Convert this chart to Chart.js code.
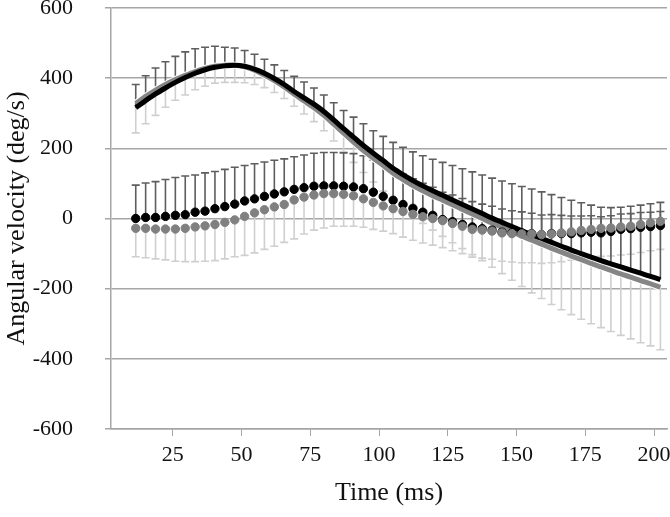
<!DOCTYPE html>
<html>
<head>
<meta charset="utf-8">
<script src="https://cdn.jsdelivr.net/npm/chart.js@4/dist/chart.umd.min.js"></script>
<style>
  html, body { margin: 0; padding: 0; background: #fff; }
  #wrap { width: 670px; height: 517px; }
</style>
</head>
<body>
<div id="wrap"><canvas id="chart" width="670" height="517"></canvas></div>
<script>
// sample times (ms)
const times = [11.5, 15.1, 18.7, 22.3, 25.9, 29.5, 33.1, 36.7, 40.3, 43.9,
  47.5, 51.1, 54.7, 58.3, 61.9, 65.5, 69.1, 72.7, 76.3, 79.9,
  83.5, 87.1, 90.7, 94.3, 97.9, 101.5, 105.1, 108.7, 112.3, 115.9,
  119.5, 123.1, 126.7, 130.3, 133.9, 137.5, 141.1, 144.7, 148.3, 151.9,
  155.5, 159.1, 162.7, 166.3, 169.9, 173.5, 177.1, 180.7, 184.3, 187.9,
  191.5, 195.1, 198.7, 202.3];

// black solid line + its SD (drawn upwards)
const blackLine = [316, 336, 355, 372, 388, 402, 414, 424, 431, 435,
  437, 434, 426, 414, 399, 382, 362, 344, 326, 305,
  281, 256, 232, 208, 186, 165, 143, 125, 108, 93,
  79, 66, 53, 40, 27, 14, 1, -11, -23, -35,
  -46, -57, -68, -79, -90, -100, -110, -120, -129, -138,
  -147, -156, -165, -174];
const blackLineSd = [66, 71, 74, 75, 74, 73, 70, 64, 60, 53,
  49, 45, 42, 40, 39, 40, 43, 45, 46, 47,
  49, 52, 57, 62, 64, 69, 74, 78, 82, 86,
  90, 94, 98, 102, 106, 110, 114, 118, 122, 126,
  130, 133, 136, 139, 142, 145, 148, 152, 160, 170,
  182, 194, 207, 220];

// grey solid line + its SD (drawn downwards)
const greyLine = [328, 348, 366, 382, 396, 408, 419, 428, 434, 437,
  437, 432, 423, 409, 393, 375, 354, 335, 316, 294,
  269, 243, 218, 194, 172, 151, 129, 111, 94, 79,
  65, 52, 39, 26, 13, 0, -13, -25, -38, -50,
  -62, -73, -85, -96, -107, -117, -128, -138, -148, -158,
  -167, -177, -186, -196];
const greyLineSd = [84, 78, 72, 65, 59, 56, 52, 51, 48, 49,
  49, 45, 41, 36, 34, 33, 34, 37, 40, 44,
  48, 53, 58, 63, 68, 73, 78, 83, 88, 93,
  98, 103, 108, 112, 116, 120, 126, 132, 138, 144,
  150, 155, 160, 164, 167, 170, 172, 173, 174, 175,
  176, 177, 177, 178];

// black dots + SD (up)
const blackDots = [0, 3, 3, 6, 9, 11, 18, 21, 28, 34,
  41, 50, 56, 63, 70, 76, 83, 88, 92, 93,
  93, 92, 90, 85, 75, 63, 52, 40, 29, 18,
  9, -3, -9, -17, -24, -29, -33, -39, -41, -41,
  -43, -46, -43, -43, -43, -41, -39, -41, -37, -31,
  -29, -25, -23, -20];
const blackDotsSd = [95, 98, 102, 105, 108, 110, 106, 109, 106, 106,
  105, 101, 100, 98, 96, 94, 93, 93, 94, 95,
  95, 95, 95, 94, 92, 90, 88, 86, 84, 82,
  80, 78, 76, 74, 72, 70, 68, 66, 63, 60,
  58, 56, 54, 52, 50, 48, 47, 46, 45, 44,
  43, 42, 41, 40];

// grey dots + SD (down)
const greyDots = [-28, -28, -30, -30, -30, -28, -24, -21, -17, -11,
  -4, 6, 16, 25, 33, 40, 53, 61, 67, 71,
  71, 69, 65, 56, 46, 36, 28, 20, 12, 5,
  0, -6, -14, -22, -31, -33, -36, -41, -43, -44,
  -44, -46, -44, -41, -38, -34, -31, -28, -27, -24,
  -22, -17, -12, -8];
const greyDotsSd = [81, 84, 85, 88, 92, 95, 99, 101, 103, 104,
  105, 111, 114, 113, 112, 108, 111, 105, 100, 98,
  93, 91, 87, 81, 77, 72, 71, 73, 74, 75,
  76, 77, 78, 78, 79, 80, 80, 81, 81, 82,
  82, 82, 82, 82, 81, 81, 81, 80, 80, 80,
  80, 80, 80, 80];

const xTicks = [25, 50, 75, 100, 125, 150, 175, 200];
const yTicks = [-600, -400, -200, 0, 200, 400, 600];

const gridColor = '#a6a6a6';
const serif = "'Liberation Serif', 'Times New Roman', serif";

function pts(vals) {
  return vals.map((v, i) => ({ x: times[i], y: v }));
}

// scales reserve room for their end labels; the plot should run to the edges
function noScalePadding(s) {
  s.paddingTop = 0;
  s.paddingBottom = 0;
  s.paddingLeft = 0;
  s.paddingRight = 0;
}

// error bars: [values, sd, direction, colour]
const errorSets = [
  [greyDots, greyDotsSd, -1, '#cfcfcf'],
  [greyLine, greyLineSd, -1, '#cfcfcf'],
  [blackDots, blackDotsSd, 1, '#5e5e5e'],
  [blackLine, blackLineSd, 1, '#5e5e5e']
];

const errorBars = {
  id: 'errorBars',
  beforeDatasetsDraw(chart) {
    const ctx = chart.ctx;
    const xs = chart.scales.x, ys = chart.scales.y;
    ctx.save();
    ctx.lineWidth = 1.6;
    errorSets.forEach(([vals, sd, dir, col]) => {
      ctx.strokeStyle = col;
      vals.forEach((v, i) => {
        const px = xs.getPixelForValue(times[i]);
        const y0 = ys.getPixelForValue(v);
        const y1 = ys.getPixelForValue(v + dir * sd[i]);
        ctx.beginPath();
        ctx.moveTo(px, y0);
        ctx.lineTo(px, y1);
        ctx.moveTo(px - 4, y1);
        ctx.lineTo(px + 4, y1);
        ctx.stroke();
      });
    });
    ctx.restore();
  }
};

// index 0 is drawn last (on top)
new Chart(document.getElementById('chart'), {
  type: 'scatter',
  data: {
    datasets: [
      { data: pts(greyDots), backgroundColor: '#808080', borderColor: '#808080',
        pointRadius: 4.2, showLine: false },
      { data: pts(blackDots), backgroundColor: '#000', borderColor: '#000',
        pointRadius: 4.2, showLine: false },
      { data: pts(blackLine), borderColor: '#000', borderWidth: 5,
        pointRadius: 0, showLine: true, tension: 0.3 },
      { data: pts(greyLine), borderColor: '#858585', borderWidth: 5,
        pointRadius: 0, showLine: true, tension: 0.3 },
      // thin white edge round the grey line
      { data: pts(greyLine), borderColor: '#fff', borderWidth: 7,
        pointRadius: 0, showLine: true, tension: 0.3 }
    ]
  },
  options: {
    responsive: false,
    animation: false,
    layout: { autoPadding: false, padding: { top: 8, right: 3, left: 0, bottom: 0 } },
    plugins: { legend: { display: false }, tooltip: { enabled: false } },
    scales: {
      x: {
        type: 'linear',
        min: 2.5,
        max: 204.7,
        afterBuildTicks: s => { s.ticks = xTicks.map(v => ({ value: v })); },
        afterFit: s => { s.height = 88; noScalePadding(s); },
        grid: { drawOnChartArea: false, color: gridColor, tickLength: 7 },
        border: { color: gridColor, width: 1.5 },
        ticks: { color: '#111', padding: 6, maxRotation: 0, font: { family: serif, size: 22 } },
        title: { display: true, text: 'Time (ms)', color: '#111',
          padding: { top: 0, bottom: 8 }, font: { family: serif, size: 26 } }
      },
      y: {
        min: -600,
        max: 600,
        afterBuildTicks: s => { s.ticks = yTicks.map(v => ({ value: v })); },
        afterFit: s => { s.width = 111; noScalePadding(s); },
        grid: { color: gridColor, lineWidth: 1.5, tickLength: 6 },
        border: { color: gridColor, width: 1.5 },
        ticks: { color: '#111', padding: 32, font: { family: serif, size: 22 } },
        title: { display: true, text: 'Angular velocity (deg/s)', color: '#111',
          padding: { top: 2, bottom: 0 }, font: { family: serif, size: 26 } }
      }
    }
  },
  plugins: [errorBars]
});
</script>
</body>
</html>
